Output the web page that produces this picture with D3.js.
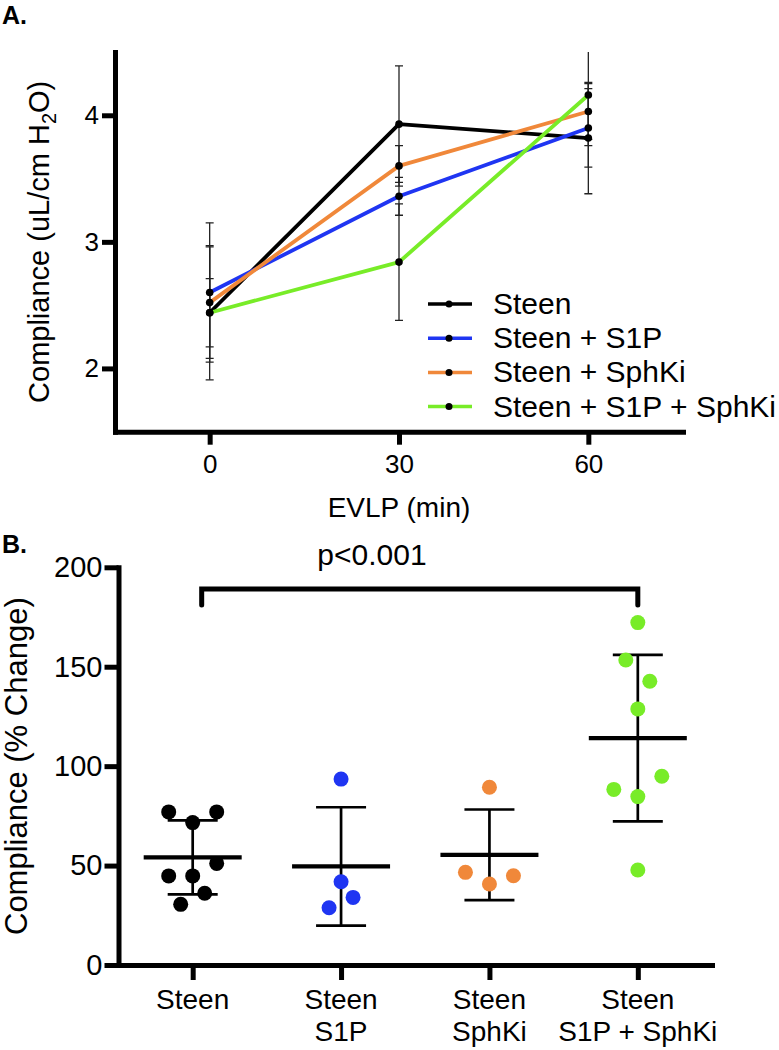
<!DOCTYPE html>
<html>
<head>
<meta charset="utf-8">
<script src="https://cdn.jsdelivr.net/npm/d3@7"></script>
<style>
  html, body { margin: 0; padding: 0; background: #fff; }
  svg { display: block; font-family: "Liberation Sans", Arial, Helvetica, sans-serif; }
</style>
</head>
<body>
<svg id="chart" width="779" height="1050"></svg>
<script>
// ---------- Panel A data ----------
const times = [0, 30, 60];
const timeTicks = [0, 30, 60];
const complianceTicks = [2, 3, 4];
const seriesNames = ["Steen", "Steen + S1P", "Steen + SphKi", "Steen + S1P + SphKi"];
const seriesColors = ["#000000", "#1f35f2", "#f0883a", "#78ec28"];
const steenMean = [2.44, 3.93, 3.82];
const steenSem = [0.53, 0.46, 0.44];
const s1pMean = [2.60, 3.36, 3.90];
const s1pSem = [0.55, 0.15, 0.31];
const sphkiMean = [2.52, 3.60, 4.03];
const sphkiSem = [0.44, 0.16, 0.22];
const comboMean = [2.44, 2.84, 4.16];
const comboSem = [0.27, 0.46, 0.40];

// ---------- Panel B data ----------
const groupLabels = [["Steen"], ["Steen", "S1P"], ["Steen", "SphKi"], ["Steen", "S1P + SphKi"]];
const pctTicks = [0, 50, 100, 150, 200];
const steenPct = [77, 77, 71.6, 51.1, 44.8, 44.8, 36.1, 30.5];
const steenSlot = [-2, 2, 0, 2, -2, 0, 1, -1];
const s1pPct = [93.5, 41.9, 34.0, 28.8];
const s1pSlot = [0, 0, 1, -1];
const sphkiPct = [89.4, 46.6, 44.9, 40.7];
const sphkiSlot = [0, -2, 2, 0];
const comboPct = [172.2, 153.4, 142.7, 128.8, 94.9, 88.3, 84.7, 47.8];
const comboSlot = [0, -1, 1, 0, 2, -2, 0, 0];
const pValueText = "p<0.001";

const svg = d3.select("#chart");
const FONT = '"Liberation Sans", Arial, Helvetica, sans-serif';

// ================= Panel A =================
const seriesA = [
  { name: seriesNames[0], color: seriesColors[0], mean: steenMean, sem: steenSem },
  { name: seriesNames[1], color: seriesColors[1], mean: s1pMean, sem: s1pSem },
  { name: seriesNames[2], color: seriesColors[2], mean: sphkiMean, sem: sphkiSem },
  { name: seriesNames[3], color: seriesColors[3], mean: comboMean, sem: comboSem }
];

const xA = d3.scaleLinear().domain([-15, 75]).range([115, 683]);
const yA = d3.scaleLinear().domain([1.5, 4.5]).range([431.7, 52]);

svg.append("text").attr("x", 2).attr("y", 24)
  .attr("font-size", 25).attr("font-weight", "bold").text("A.");

const gA = svg.append("g");

svg.append("defs").append("clipPath").attr("id", "clipA")
  .append("rect").attr("x", 100).attr("y", yA(4.5)).attr("width", 600).attr("height", yA(1.5) - yA(4.5));

// error bars
const errG = gA.append("g").attr("clip-path", "url(#clipA)");
seriesA.forEach(s => {
  times.forEach((t, i) => {
    const x = xA(t), lo = yA(s.mean[i] - s.sem[i]), hi = yA(s.mean[i] + s.sem[i]);
    errG.append("line").attr("x1", x).attr("x2", x).attr("y1", lo).attr("y2", hi)
      .attr("stroke", "#222").attr("stroke-width", 1.3);
    [lo, hi].forEach(yy => errG.append("line").attr("x1", x - 4).attr("x2", x + 4)
      .attr("y1", yy).attr("y2", yy).attr("stroke", "#222").attr("stroke-width", 1.3));
  });
});

// lines
const lineGen = d3.line().x((d, i) => xA(times[i])).y(d => yA(d));
seriesA.forEach(s => {
  gA.append("path").attr("d", lineGen(s.mean)).attr("fill", "none")
    .attr("stroke", s.color).attr("stroke-width", 3.8).attr("stroke-linejoin", "round");
});
seriesA.forEach(s => {
  gA.selectAll(null).data(s.mean).enter().append("circle")
    .attr("cx", (d, i) => xA(times[i])).attr("cy", d => yA(d)).attr("r", 3.8).attr("fill", "#000");
});

// axes
const axA_y = gA.append("g").attr("transform", `translate(${xA(-15)},0)`)
  .call(d3.axisLeft(yA).tickValues(complianceTicks).tickSize(13).tickSizeOuter(0).tickPadding(3).tickFormat(d3.format("d")));
const axA_x = gA.append("g").attr("transform", `translate(0,${yA(1.5)})`)
  .call(d3.axisBottom(xA).tickValues(timeTicks).tickSize(13).tickSizeOuter(0).tickPadding(10).tickFormat(d3.format("d")));
[axA_y, axA_x].forEach(ax => {
  ax.select(".domain").attr("stroke", "#000").attr("stroke-width", 5).attr("stroke-linecap", "square");
  ax.selectAll(".tick line").attr("stroke", "#000").attr("stroke-width", 5);
  ax.selectAll(".tick text").attr("font-size", 26).attr("font-family", FONT).attr("fill", "#000");
});

// axis titles
const tA = svg.append("text").attr("font-size", 29).attr("text-anchor", "middle")
  .attr("transform", `translate(49,${(yA(1.5) + yA(4.5)) / 2}) rotate(-90)`);
tA.append("tspan").text("Compliance (uL/cm H");
tA.append("tspan").attr("font-size", 20).attr("dy", 7).text("2");
tA.append("tspan").attr("dy", -7).text("O)");

svg.append("text").attr("x", (xA(-15) + xA(75)) / 2).attr("y", 517)
  .attr("font-size", 28).attr("text-anchor", "middle").text("EVLP (min)");

// legend
const legY0 = 304, legStep = 34.2;
seriesA.forEach((s, i) => {
  const y = legY0 + i * legStep;
  svg.append("line").attr("x1", 428).attr("x2", 472).attr("y1", y).attr("y2", y)
    .attr("stroke", s.color).attr("stroke-width", 3.5);
  svg.append("circle").attr("cx", 449).attr("cy", y).attr("r", 3.5).attr("fill", "#000");
  svg.append("text").attr("x", 493).attr("y", y + 10).attr("font-size", 30).text(s.name);
});

// ================= Panel B =================
const groupsB = [
  { vals: steenPct, slot: steenSlot, color: seriesColors[0] },
  { vals: s1pPct, slot: s1pSlot, color: seriesColors[1] },
  { vals: sphkiPct, slot: sphkiSlot, color: seriesColors[2] },
  { vals: comboPct, slot: comboSlot, color: seriesColors[3] }
];
const groupKeys = groupLabels.map((d, i) => i);

const xB = d3.scalePoint().domain(groupKeys).range([118.5, 712]).padding(0.5);
const yB = d3.scaleLinear().domain([0, 200]).range([965, 567.3]);

svg.append("text").attr("x", 2).attr("y", 553)
  .attr("font-size", 25).attr("font-weight", "bold").text("B.");

const gB = svg.append("g");

// error bars (SD) and means
groupsB.forEach((g, i) => {
  const cx = xB(i);
  const m = d3.mean(g.vals), sd = d3.deviation(g.vals);
  gB.append("line").attr("x1", cx).attr("x2", cx).attr("y1", yB(m - sd)).attr("y2", yB(m + sd))
    .attr("stroke", "#000").attr("stroke-width", 2.7);
  [m - sd, m + sd].forEach(v => gB.append("line").attr("x1", cx - 25).attr("x2", cx + 25)
    .attr("y1", yB(v)).attr("y2", yB(v)).attr("stroke", "#000").attr("stroke-width", 2.7));
  gB.append("line").attr("x1", cx - 49).attr("x2", cx + 49).attr("y1", yB(m)).attr("y2", yB(m))
    .attr("stroke", "#000").attr("stroke-width", 4.2);
});
groupsB.forEach((g, i) => {
  gB.selectAll(null).data(g.vals).enter().append("circle")
    .attr("cx", (d, j) => xB(i) + g.slot[j] * 12).attr("cy", d => yB(d))
    .attr("r", 7.5).attr("fill", g.color);
});

// axes
const axB_y = gB.append("g").attr("transform", `translate(${xB.range()[0]},0)`)
  .call(d3.axisLeft(yB).tickValues(pctTicks).tickSize(14).tickSizeOuter(0).tickPadding(2));
const axB_x = gB.append("g").attr("transform", `translate(0,${yB(0)})`)
  .call(d3.axisBottom(xB).tickSize(15).tickSizeOuter(0).tickFormat(""));
[axB_y, axB_x].forEach(ax => {
  ax.select(".domain").attr("stroke", "#000").attr("stroke-width", 5).attr("stroke-linecap", "square");
  ax.selectAll(".tick line").attr("stroke", "#000").attr("stroke-width", 5);
  ax.selectAll(".tick text").attr("font-size", 29).attr("font-family", FONT).attr("fill", "#000");
});
// category labels
groupLabels.forEach((lines, i) => {
  const t = svg.append("text").attr("text-anchor", "middle").attr("font-size", 28);
  lines.forEach((ln, k) => t.append("tspan").attr("x", xB(i)).attr("y", 1009 + k * 32).text(ln));
});

svg.append("text").attr("font-size", 31).attr("text-anchor", "middle")
  .attr("transform", `translate(27,${(yB(0) + yB(200)) / 2}) rotate(-90)`)
  .text("Compliance (% Change)");

// significance bracket
const brY = 589, brL = xB(0) + 9, brR = xB(3);
svg.append("path")
  .attr("d", `M${brL},605 L${brL},${brY} L${brR},${brY} L${brR},605`)
  .attr("fill", "none").attr("stroke", "#000").attr("stroke-width", 5)
  .attr("stroke-linejoin", "miter").attr("stroke-linecap", "round");
svg.append("text").attr("x", 372).attr("y", 565).attr("font-size", 30)
  .attr("text-anchor", "middle").text(pValueText);
</script>
</body>
</html>
